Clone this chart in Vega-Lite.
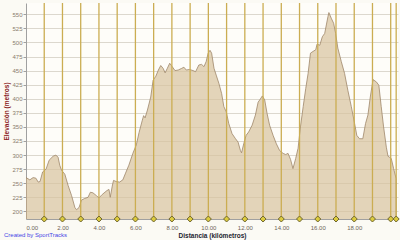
{
  "$schema": "https://vega.github.io/schema/vega-lite/v6.json",
  "width": 372,
  "height": 216,
  "autosize": "none",
  "padding": {"left": 26, "top": 3, "right": 2, "bottom": 21},
  "background": "#FBFAF4",
  "config": {"view": {"fill": "#FEFDF9", "stroke": null}, "font": "Liberation Sans"},
  "title": {"text": "Created by SportTracks", "orient": "bottom", "anchor": "start", "frame": "bounds", "fontSize": 6, "fontWeight": "normal", "color": "#4646E6", "offset": -7},
  "datasets": {
    "profile": [
      {"km": 0, "elev": 260}, {"km": 0.21, "elev": 256}, {"km": 0.39, "elev": 260}, {"km": 0.54, "elev": 259},
      {"km": 0.67, "elev": 252}, {"km": 0.77, "elev": 253}, {"km": 0.91, "elev": 270}, {"km": 1.1, "elev": 275},
      {"km": 1.27, "elev": 291}, {"km": 1.49, "elev": 298}, {"km": 1.64, "elev": 300}, {"km": 1.76, "elev": 296},
      {"km": 1.85, "elev": 282}, {"km": 1.95, "elev": 273}, {"km": 2.13, "elev": 266}, {"km": 2.31, "elev": 246},
      {"km": 2.5, "elev": 228}, {"km": 2.68, "elev": 207}, {"km": 2.77, "elev": 203}, {"km": 2.91, "elev": 207},
      {"km": 3.04, "elev": 220}, {"km": 3.22, "elev": 223}, {"km": 3.4, "elev": 225}, {"km": 3.53, "elev": 234},
      {"km": 3.67, "elev": 233}, {"km": 3.86, "elev": 228}, {"km": 4.0, "elev": 224}, {"km": 4.18, "elev": 230},
      {"km": 4.44, "elev": 237}, {"km": 4.55, "elev": 239}, {"km": 4.62, "elev": 225}, {"km": 4.73, "elev": 245},
      {"km": 4.8, "elev": 255}, {"km": 4.95, "elev": 253}, {"km": 5.13, "elev": 252}, {"km": 5.31, "elev": 256},
      {"km": 5.46, "elev": 268}, {"km": 5.64, "elev": 282}, {"km": 5.86, "elev": 303}, {"km": 6.05, "elev": 318},
      {"km": 6.2, "elev": 340}, {"km": 6.38, "elev": 362}, {"km": 6.45, "elev": 370}, {"km": 6.53, "elev": 366},
      {"km": 6.66, "elev": 380}, {"km": 6.84, "elev": 403}, {"km": 6.97, "elev": 433}, {"km": 7.12, "elev": 440},
      {"km": 7.26, "elev": 451}, {"km": 7.39, "elev": 459}, {"km": 7.52, "elev": 454}, {"km": 7.63, "elev": 446},
      {"km": 7.75, "elev": 454}, {"km": 7.88, "elev": 463}, {"km": 8.02, "elev": 457}, {"km": 8.17, "elev": 450},
      {"km": 8.35, "elev": 451}, {"km": 8.54, "elev": 454}, {"km": 8.66, "elev": 456}, {"km": 8.79, "elev": 451},
      {"km": 8.97, "elev": 452}, {"km": 9.16, "elev": 450}, {"km": 9.3, "elev": 448}, {"km": 9.48, "elev": 460},
      {"km": 9.63, "elev": 461}, {"km": 9.76, "elev": 457}, {"km": 9.88, "elev": 466}, {"km": 9.99, "elev": 481},
      {"km": 10.09, "elev": 486}, {"km": 10.18, "elev": 481}, {"km": 10.31, "elev": 454}, {"km": 10.43, "elev": 442},
      {"km": 10.58, "elev": 427}, {"km": 10.73, "elev": 409}, {"km": 10.85, "elev": 386}, {"km": 10.98, "elev": 377},
      {"km": 11.12, "elev": 356}, {"km": 11.3, "elev": 338}, {"km": 11.49, "elev": 329}, {"km": 11.63, "elev": 323},
      {"km": 11.76, "elev": 308}, {"km": 11.82, "elev": 304}, {"km": 11.94, "elev": 320}, {"km": 12.07, "elev": 335},
      {"km": 12.21, "elev": 341}, {"km": 12.4, "elev": 353}, {"km": 12.58, "elev": 371}, {"km": 12.73, "elev": 394},
      {"km": 12.82, "elev": 398}, {"km": 12.96, "elev": 405}, {"km": 13.09, "elev": 398}, {"km": 13.22, "elev": 374},
      {"km": 13.36, "elev": 353}, {"km": 13.55, "elev": 335}, {"km": 13.73, "elev": 320}, {"km": 13.91, "elev": 308},
      {"km": 14.1, "elev": 303}, {"km": 14.24, "elev": 301}, {"km": 14.37, "elev": 303}, {"km": 14.51, "elev": 292},
      {"km": 14.64, "elev": 276}, {"km": 14.79, "elev": 294}, {"km": 14.92, "elev": 312}, {"km": 15.05, "elev": 350},
      {"km": 15.2, "elev": 386}, {"km": 15.34, "elev": 418}, {"km": 15.47, "elev": 445}, {"km": 15.6, "elev": 481},
      {"km": 15.74, "elev": 484}, {"km": 15.89, "elev": 487}, {"km": 15.96, "elev": 497}, {"km": 16.11, "elev": 495},
      {"km": 16.25, "elev": 510}, {"km": 16.38, "elev": 516}, {"km": 16.47, "elev": 531}, {"km": 16.56, "elev": 546},
      {"km": 16.61, "elev": 553}, {"km": 16.74, "elev": 543}, {"km": 16.87, "elev": 534}, {"km": 16.98, "elev": 516},
      {"km": 17.1, "elev": 490}, {"km": 17.29, "elev": 466}, {"km": 17.47, "elev": 445}, {"km": 17.65, "elev": 415},
      {"km": 17.84, "elev": 386}, {"km": 18.02, "elev": 356}, {"km": 18.14, "elev": 335}, {"km": 18.29, "elev": 329},
      {"km": 18.47, "elev": 329}, {"km": 18.62, "elev": 356}, {"km": 18.75, "elev": 371}, {"km": 18.88, "elev": 403},
      {"km": 19.03, "elev": 434}, {"km": 19.21, "elev": 430}, {"km": 19.35, "elev": 424}, {"km": 19.48, "elev": 386},
      {"km": 19.61, "elev": 350}, {"km": 19.76, "elev": 314}, {"km": 19.85, "elev": 298}, {"km": 20.03, "elev": 294},
      {"km": 20.16, "elev": 276}, {"km": 20.3, "elev": 258}
    ],
    "laps": [
      {"km": 1}, {"km": 2}, {"km": 3}, {"km": 4}, {"km": 5}, {"km": 6}, {"km": 7}, {"km": 8}, {"km": 9}, {"km": 10},
      {"km": 11}, {"km": 12}, {"km": 13}, {"km": 14}, {"km": 15}, {"km": 16}, {"km": 17}, {"km": 18}, {"km": 19}, {"km": 20},
      {"km": 20.3}
    ]
  },
  "layer": [
    {
      "data": {"name": "profile"},
      "mark": {"type": "area", "fill": "#D8C3A0", "fillOpacity": 0.72, "stroke": "#9E876A", "strokeWidth": 0.8, "clip": true},
      "encoding": {
        "x": {
          "field": "km", "type": "quantitative",
          "scale": {"domain": [0, 20.4], "nice": false, "zero": false},
          "axis": {
            "values": [0, 2, 4, 6, 8, 10, 12, 14, 16, 18], "format": ".2f", "grid": false,
            "ticks": false, "domainColor": "#A0A0A0", "domainWidth": 1,
            "labelFontSize": 6, "labelColor": "#6E6458", "labelPadding": 5,
            "title": "Distancia (kilómetros)", "titleFontSize": 6.5, "titleFontWeight": "bold",
            "titleColor": "#1E1E30", "titlePadding": 2
          }
        },
        "y": {
          "field": "elev", "type": "quantitative",
          "scale": {"domain": [186.5, 570], "nice": false, "zero": false},
          "axis": {
            "values": [200, 225, 250, 275, 300, 325, 350, 375, 400, 425, 450, 475, 500, 525, 550],
            "grid": true, "gridColor": "#DCD8CE", "gridWidth": 1,
            "domainColor": "#A0A0A0", "tickColor": "#A0A0A0", "tickSize": 3,
            "labelFontSize": 6, "labelColor": "#8A7C6C", "labelPadding": 1,
            "title": "Elevación (metros)", "titleFontSize": 6.5, "titleFontWeight": "bold",
            "titleColor": "#8B1C1C", "titlePadding": 2
          }
        }
      }
    },
    {
      "data": {"name": "laps"},
      "mark": {"type": "rule", "color": "#CBAD52", "strokeWidth": 1.3},
      "encoding": {"x": {"field": "km", "type": "quantitative"}}
    },
    {
      "data": {"name": "laps"},
      "mark": {"type": "point", "shape": "diamond", "filled": true, "fill": "#DCCB3E", "stroke": "#6F6630", "strokeWidth": 1, "size": 36, "opacity": 1},
      "encoding": {"x": {"field": "km", "type": "quantitative"}, "y": {"value": "height"}}
    }
  ]
}
